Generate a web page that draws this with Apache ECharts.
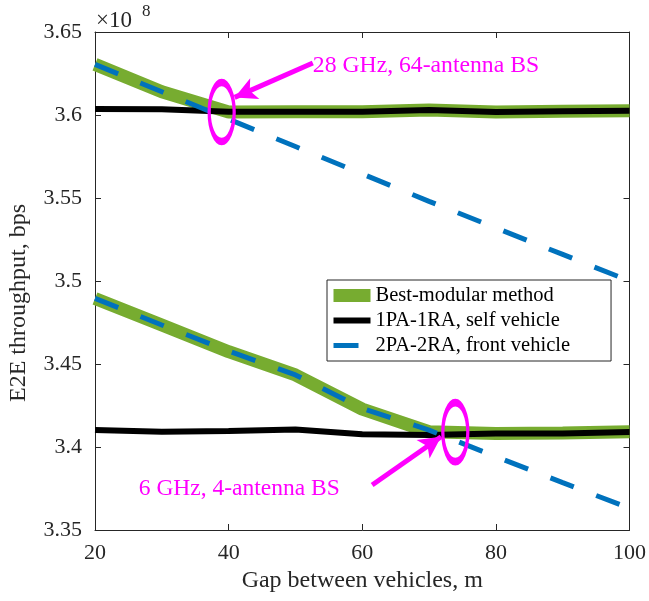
<!DOCTYPE html>
<html><head><meta charset="utf-8">
<script src="https://cdn.jsdelivr.net/npm/echarts@6/dist/echarts.min.js"></script>
<style>html,body{margin:0;padding:0;background:#fff}#c{width:649px;height:601px}</style>
</head><body><div id="c"></div>
<script>
// ---- data (values in units of 1e8 bps) ----
const gaps = [20, 30, 40, 50, 60, 70, 80, 90, 100];
const best28  = [3.6305, 3.6140, 3.6018, 3.6020, 3.6020, 3.6030, 3.6018, 3.6022, 3.6025];
const self28  = [3.6036, 3.6035, 3.6020, 3.6020, 3.6020, 3.6030, 3.6018, 3.6022, 3.6025];
const front28 = [3.6305, 3.6140, 3.5975, 3.5810, 3.5645, 3.5480, 3.5320, 3.5160, 3.5000];
const best6   = [3.4895, 3.4735, 3.4574, 3.4434, 3.4228, 3.4092, 3.4082, 3.4084, 3.4092];
const self6   = [3.4102, 3.4092, 3.4096, 3.4106, 3.4077, 3.4073, 3.4082, 3.4082, 3.4090];
const front6  = [3.4895, 3.4735, 3.4578, 3.4434, 3.4233, 3.4102, 3.3942, 3.3785, 3.3631];
const xTickLabels = ['20', '40', '60', '80', '100'];
const yTickLabels = ['3.35', '3.4', '3.45', '3.5', '3.55', '3.6', '3.65'];
const seriesNames = ['Best-modular method', '1PA-1RA, self vehicle', '2PA-2RA, front vehicle'];
const annotTexts = ['28 GHz, 64-antenna BS', '6 GHz, 4-antenna BS'];
const annotTextPos = [[52.6, 3.6295], [26.55, 3.3748]];
const arrowFrom = [[52.6, 3.6313], [61.48, 3.3771]];
const arrowTo   = [[40.9, 3.6106], [71.8, 3.4062]];
const ellipseAt = [[38.96, 3.6018], [73.93, 3.4090]];
const xLabel = 'Gap between vehicles, m';
const yLabel = 'E2E throughput, bps';

const FONT = '"Liberation Serif", "Times New Roman", serif';
const GREEN = '#77AC30', BLUE = '#0072BD', BLACK = '#000000', MAG = '#FF00FF', AX = '#262626';
const W_GREEN = 13, W_BLACK = 6, W_BLUE = 5;

const chart = echarts.init(document.getElementById('c'), null, {renderer: 'canvas'});
const pairs = ys => gaps.map((g, i) => [g, ys[i]]);

const xBase = {
  type: 'value', min: 20, max: 100, interval: 20,
  axisLine: {show: true, lineStyle: {color: AX, width: 1}},
  axisTick: {show: true, inside: true, length: 6, lineStyle: {color: AX}},
  splitLine: {show: false}
};
const yBase = {
  type: 'value', min: 3.35, max: 3.65, interval: 0.05,
  axisLine: {show: true, lineStyle: {color: AX, width: 1}},
  axisTick: {show: true, inside: true, length: 6, lineStyle: {color: AX}},
  splitLine: {show: false}
};
const lblStyle = {color: AX, fontFamily: FONT, fontSize: 22};

function mkLine(name, ys, color, width, type, z) {
  return {
    name, type: 'line', data: pairs(ys), symbol: 'none', z,
    lineStyle: {color, width, type, cap: 'butt'}, itemStyle: {color},
    emphasis: {disabled: true}, silent: true
  };
}

const s = [
  mkLine(seriesNames[0], best28, GREEN, W_GREEN, 'solid', 1),
  mkLine(seriesNames[0], best6, GREEN, W_GREEN, 'solid', 1),
  mkLine(seriesNames[1], self28, BLACK, W_BLACK, 'solid', 2),
  mkLine(seriesNames[1], self6, BLACK, W_BLACK, 'solid', 2),
  mkLine(seriesNames[2], front28, BLUE, W_BLUE, [25, 24], 3),
  mkLine(seriesNames[2], front6, BLUE, W_BLUE, [25, 24], 3)
];
s[4].markLine = {
  silent: true, animation: false, symbol: ['none', 'arrow'], symbolSize: [17, 22],
  lineStyle: {color: MAG, width: 5, type: 'solid'}, label: {show: false},
  emphasis: {disabled: true},
  data: arrowFrom.map((f, i) => [{coord: f}, {coord: arrowTo[i]}])
};
s[4].markPoint = {
  silent: true, animation: false,
  symbol: 'path://M0,-1A1,1,0,1,1,0,1A1,1,0,1,1,0,-1Z', symbolSize: [25, 59],
  itemStyle: {color: 'rgba(0,0,0,0)', borderColor: MAG, borderWidth: 5},
  label: {show: false}, emphasis: {disabled: true},
  data: ellipseAt.map(c => ({coord: c}))
};

const legendWidths = [W_GREEN, W_BLACK, W_BLUE];
const legendTypes = ['solid', 'solid', [25, 24]];

chart.setOption({
  animation: false,
  backgroundColor: '#fff',
  grid: {left: 95, right: 14, top: 32, bottom: 71, containLabel: false},
  xAxis: [
    Object.assign({}, xBase, {position: 'bottom',
      axisLabel: Object.assign({}, lblStyle, {margin: 12, formatter: v => xTickLabels[Math.round((v - 20) / 20)]}),
      name: xLabel, nameLocation: 'middle', nameGap: 37,
      nameTextStyle: {color: AX, fontFamily: FONT, fontSize: 24}}),
    Object.assign({}, xBase, {position: 'top', axisLabel: {show: false}})
  ],
  yAxis: [
    Object.assign({}, yBase, {position: 'left',
      axisLabel: Object.assign({}, lblStyle, {margin: 13, formatter: v => yTickLabels[Math.round((v - 3.35) / 0.05)]})}),
    Object.assign({}, yBase, {position: 'right', axisLabel: {show: false}})
  ],
  legend: {
    orient: 'vertical', left: 327, top: 280, selectedMode: false,
    data: seriesNames.map((n, i) => ({name: n,
      itemStyle: {opacity: 0, borderWidth: 0},
      lineStyle: {width: legendWidths[i], type: legendTypes[i], cap: 'butt', opacity: 1}})),
    itemWidth: 37, itemHeight: 13, itemGap: 4,
    padding: [5, 41, 5, 0], borderColor: AX, borderWidth: 1, backgroundColor: '#fff',
    textStyle: {fontFamily: FONT, fontSize: 20.5, color: '#000'}
  },
  series: s
});

const g = [
  {type: 'text', x: 19, y: 303, rotation: Math.PI / 2, silent: true,
   style: {text: yLabel, fill: AX, font: '24px ' + FONT, align: 'center', verticalAlign: 'middle'}},
  {type: 'text', x: 96, y: 21, silent: true,
   style: {text: '×10', fill: AX, font: '23px ' + FONT, align: 'left', verticalAlign: 'middle'}},
  {type: 'text', x: 142, y: 12, silent: true,
   style: {text: '8', fill: AX, font: '17px ' + FONT, align: 'left', verticalAlign: 'middle'}}
];
annotTexts.forEach((t, i) => {
  const p = chart.convertToPixel({xAxisIndex: 0, yAxisIndex: 0}, annotTextPos[i]);
  g.push({type: 'text', x: p[0], y: p[1], silent: true,
    style: {text: t, fill: MAG, font: (i === 0 ? '23.7px ' : '23.5px ') + FONT, align: 'left', verticalAlign: 'middle'}});
});
chart.setOption({graphic: g});
</script></body></html>
